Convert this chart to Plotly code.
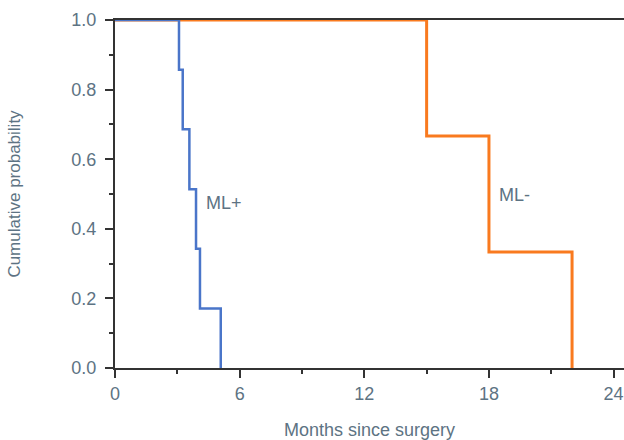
import plotly.graph_objects as go

# Kaplan-Meier style step data
ml_pos_months = [0, 3.08, 3.26, 3.58, 3.90, 4.09, 5.09]
ml_pos_prob = [1.0, 0.857, 0.686, 0.514, 0.343, 0.171, 0.0]

ml_neg_months = [0, 15.0, 18.0, 22.0]
ml_neg_prob = [1.0, 0.667, 0.333, 0.0]

x_ticks = [0, 6, 12, 18, 24]
y_ticks = [0.0, 0.2, 0.4, 0.6, 0.8, 1.0]

text_color = "#5d7383"
font_family = "Liberation Sans, Arial, sans-serif"

fig = go.Figure()
fig.add_trace(go.Scatter(x=ml_neg_months, y=ml_neg_prob, mode="lines",
                         line=dict(color="#f97a1f", width=3, shape="hv"),
                         name="ML-", showlegend=False))
fig.add_trace(go.Scatter(x=ml_pos_months, y=ml_pos_prob, mode="lines",
                         line=dict(color="#4a75c9", width=2.5, shape="hv"),
                         name="ML+", showlegend=False))

fig.add_annotation(x=5.25, y=0.474, text="ML+", showarrow=False,
                   font=dict(size=18, color=text_color, family=font_family))
fig.add_annotation(x=19.25, y=0.497, text="ML-", showarrow=False,
                   font=dict(size=18, color=text_color, family=font_family))

fig.update_layout(
    width=624, height=440,
    margin=dict(l=115, r=0, t=20, b=72, autoexpand=False),
    plot_bgcolor="white", paper_bgcolor="white",
    font=dict(family=font_family, color=text_color, size=18),
    xaxis=dict(
        range=[0, 24.5], tickvals=x_ticks, ticktext=[str(v) for v in x_ticks],
        automargin=False,
        showgrid=False, zeroline=False,
        showline=True, linecolor="#333333", linewidth=2, mirror=True,
        ticks="outside", ticklen=8, tickwidth=1.5, tickcolor="#333333",
        minor=dict(ticks="outside", ticklen=4, dtick=3, tickcolor="#333333", tickwidth=1.5),
        tickfont=dict(size=18, color=text_color),
        title=dict(text="Months since surgery", standoff=22,
                   font=dict(size=18, color=text_color)),
    ),
    yaxis=dict(
        range=[0, 1.0], tickvals=y_ticks, ticktext=[f"{v:.1f}" for v in y_ticks],
        automargin=False,
        showgrid=False, zeroline=False,
        showline=True, linecolor="#333333", linewidth=2,
        ticks="outside", ticklen=8, tickwidth=1.5, tickcolor="#333333",
        ticklabelstandoff=5,
        minor=dict(ticks="outside", ticklen=4, dtick=0.1, tickcolor="#333333", tickwidth=1.5),
        tickfont=dict(size=18, color=text_color),
        title=dict(text="Cumulative probability", standoff=46,
                   font=dict(size=17, color=text_color)),
    ),
)

# remove the default page margin so the 624x440 figure fills the window exactly
fig.write_html(
    "out.html",
    config={"displayModeBar": False},
    post_script="document.body.style.margin='0';document.documentElement.style.overflow='hidden';",
)
